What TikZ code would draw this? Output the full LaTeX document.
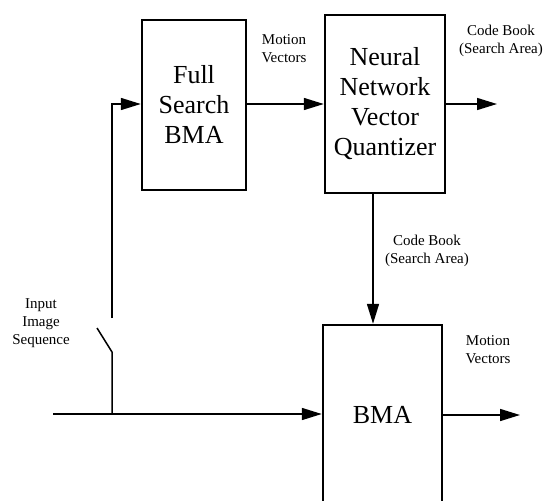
\documentclass[tikz,border=0pt]{standalone}
\usepackage{fontspec}
\setmainfont{Liberation Serif}
\usetikzlibrary{positioning,arrows.meta}

\begin{document}
\begin{tikzpicture}[x=1pt,y=-1pt,
  blk/.style={draw, line width=2.4pt, inner sep=0pt, align=center,
              font=\fontsize{26}{30}\selectfont},
  lbl/.style={align=center, font=\fontsize{15}{18}\selectfont},
  wire/.style={line width=1.5pt},
  flow/.style={wire, -{Triangle[length=20pt,width=12pt]}}]
\useasboundingbox (0,0) rectangle (552,501);

\def\ytop{104}
\def\yin{414}

% blocks
\node[blk, minimum width=104pt, minimum height=170pt] (fsbma) at (194,105) {Full\\Search\\BMA};
\node[blk, minimum width=120pt, minimum height=178pt] (nnvq) at (385,104) {Neural\\Network\\Vector\\Quantizer};
\node[blk, minimum width=119pt, minimum height=180pt] (bma) at (382.5,415) {BMA};

% input and switch
\coordinate (in) at (53,\yin);
\coordinate (j) at (112,\yin);
\coordinate (swa) at (112,352);
\coordinate (swb) at (97,328);
\coordinate (swc) at (112,318);
\coordinate (up) at (112,\ytop);
\draw[flow] (in) -- (bma.west |- in);
\draw[wire] (j) -- (swa) -- (swb);
\draw[flow] (swc) -- (up) -- (fsbma.west |- up);
\node[lbl] (inlbl) at (41,323) {Input\\Image\\Sequence};

% top row
\draw[flow] (fsbma.east |- up) -- (nnvq.west |- up);
\node[lbl] (mv1) at (284,49) {Motion\\Vectors};
\coordinate (cbout) at (497,\ytop);
\draw[flow] (nnvq.east |- up) -- (cbout);
\node[lbl] (cb1) at (501,41) {Code Book\\(Search Area)};

% code book down to bma
\coordinate (cbx) at (373,0);
\draw[flow] (nnvq.south -| cbx) -- (bma.north -| cbx);
\node[lbl] (cb2) at (427,251) {Code Book\\(Search Area)};

% bma output
\coordinate (mvout) at (520,415);
\draw[flow] (bma.east |- mvout) -- (mvout);
\node[lbl] (mv2) at (488,350) {Motion\\Vectors};
\end{tikzpicture}
\end{document}
